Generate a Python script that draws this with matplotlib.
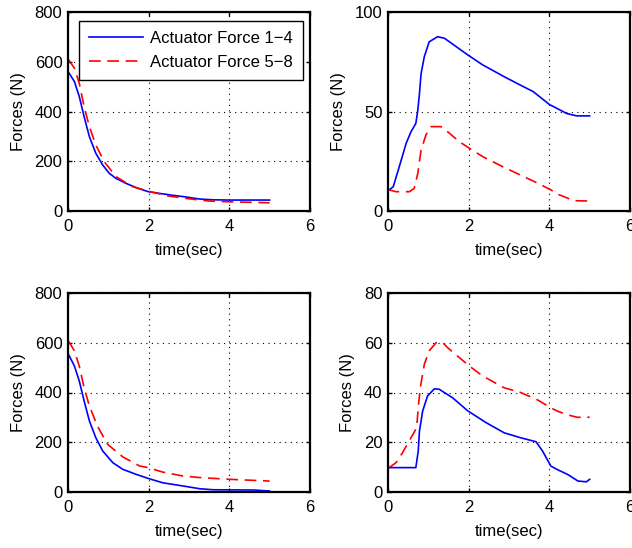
import matplotlib
matplotlib.use("Agg")
import matplotlib.pyplot as plt

plt.rcParams['font.family'] = ['Liberation Sans', 'DejaVu Sans']

# Top-left panel
tl_t_blue = [0, 0.02, 0.16, 0.28, 0.40, 0.53, 0.69, 0.86, 1.02, 1.19, 1.44, 1.69, 1.98, 2.26, 2.6, 2.9, 3.27, 3.6, 4.0, 4.5, 5.0]
tl_blue = [558, 556, 520, 460, 379, 299, 232, 185, 152, 131, 111, 94, 78, 71, 63, 57, 48, 45, 44, 44, 44]
tl_t_red = [0, 0.02, 0.16, 0.28, 0.40, 0.53, 0.69, 0.90, 1.19, 1.6, 1.98, 2.5, 3.0, 3.5, 4.0, 4.5, 5.0]
tl_red = [608, 607, 574, 513, 419, 339, 265, 198, 138, 98, 80, 60, 49, 40, 37, 35, 33]

# Top-right panel
tr_t_blue = [0, 0.03, 0.13, 0.28, 0.45, 0.57, 0.69, 0.74, 0.78, 0.82, 0.90, 1.02, 1.23, 1.40, 1.69, 1.98, 2.35, 2.88, 3.27, 3.6, 4.01, 4.1, 4.43, 4.68, 5.0]
tr_blue = [11, 10.6, 12.2, 22.3, 34, 39.8, 44, 50.8, 59, 69, 77.5, 85, 87.6, 86.8, 82.6, 78.4, 73.4, 67.5, 63.4, 60, 53.4, 52.5, 49, 47.8, 47.8]
tr_t_red = [0, 0.03, 0.2, 0.53, 0.65, 0.74, 0.82, 0.94, 1.07, 1.31, 1.48, 1.77, 2.02, 2.35, 2.84, 3.29, 3.71, 4.04, 4.2, 4.46, 4.6, 5.0]
tr_red = [11, 10.6, 9.7, 9.7, 11.4, 19, 30.6, 38.2, 42.4, 42.4, 39.8, 34.8, 31.5, 27.3, 22.3, 18, 14, 10.6, 8.5, 6.4, 5.2, 5]

# Bottom-left panel
bl_t_blue = [0, 0.02, 0.16, 0.28, 0.40, 0.53, 0.69, 0.86, 1.11, 1.36, 1.69, 1.98, 2.35, 2.86, 3.27, 3.6, 4.6, 5.0]
bl_blue = [553, 551, 506, 446, 366, 286, 218, 165, 118, 91, 71, 55, 37, 24, 13, 9, 8, 4]
bl_t_red = [0, 0.02, 0.16, 0.28, 0.40, 0.53, 0.73, 0.98, 1.36, 1.77, 1.98, 2.35, 2.86, 3.27, 4.0, 5.0]
bl_red = [606, 605, 567, 506, 419, 346, 265, 192, 141, 105, 98, 80, 64, 58, 51, 44]

# Bottom-right panel
br_t_blue = [0, 0.03, 0.69, 0.75, 0.78, 0.86, 0.98, 1.15, 1.27, 1.6, 1.98, 2.43, 2.88, 3.29, 3.67, 3.83, 4.04, 4.2, 4.46, 4.71, 4.92, 5.0]
br_blue = [10, 9.8, 9.8, 16.5, 24.5, 32.6, 38.6, 41.5, 41.3, 37.9, 32.6, 27.9, 23.8, 21.8, 20.2, 16.5, 10.4, 9, 7, 4.4, 4.1, 5.1]
br_t_red = [0, 0.03, 0.2, 0.36, 0.57, 0.71, 0.75, 0.80, 0.90, 1.02, 1.19, 1.36, 1.48, 1.77, 2.02, 2.35, 2.88, 3.29, 3.71, 4.04, 4.2, 4.46, 4.7, 4.9, 5.0]
br_red = [9.8, 9.8, 11.8, 15.8, 21.8, 25.8, 33.9, 41.9, 51.3, 56.7, 60, 60, 58, 54, 50.6, 46.6, 41.9, 40, 37, 33.8, 32.5, 31, 30, 30.2, 30]

x_ticks = [0, 2, 4, 6]
legend_labels = ["Actuator Force 1\u22124", "Actuator Force 5\u22128"]

W, H = 632, 548
fig = plt.figure(figsize=(W / 100, H / 100), dpi=100)

def px_axes(l, t, r, b):
    return fig.add_axes([l / W, 1 - b / H, (r - l) / W, (b - t) / H])

panels = [
    (px_axes(68, 12, 310, 211), tl_t_blue, tl_blue, tl_t_red, tl_red, 800, [0, 200, 400, 600, 800]),
    (px_axes(388, 12, 630, 211), tr_t_blue, tr_blue, tr_t_red, tr_red, 100, [0, 50, 100]),
    (px_axes(68, 293, 310, 492), bl_t_blue, bl_blue, bl_t_red, bl_red, 800, [0, 200, 400, 600, 800]),
    (px_axes(388, 293, 630, 492), br_t_blue, br_blue, br_t_red, br_red, 80, [0, 20, 40, 60, 80]),
]

FS = 12
for i, (ax, tb, yb, tr, yr, ymax, yt) in enumerate(panels):
    ax.plot(tb, yb, color='#0000ff', lw=1.2, label=legend_labels[0])
    ax.plot(tr, yr, color='#ff0000', lw=1.2, ls=(0, (7, 4)), label=legend_labels[1])
    ax.set_xlim(0, 6)
    ax.set_ylim(0, ymax)
    ax.set_xticks(x_ticks)
    ax.set_yticks(yt)
    ax.grid(True, color='black', ls=(0, (1, 4)), lw=0.8)
    ax.tick_params(direction='in', length=3, width=1, top=True, right=True,
                   labelsize=FS, colors='black')
    ax.tick_params(axis='x', pad=6)
    ax.tick_params(axis='y', pad=4)
    for s in ax.spines.values():
        s.set_linewidth(1.6)
    ax.set_xlabel('time(sec)', fontsize=FS, labelpad=6)
    ax.set_ylabel('Forces (N)', fontsize=FS, labelpad=6)
    if i == 0:
        leg = ax.legend(loc='upper right', bbox_to_anchor=((303 - 68) / 242, 1 - 9 / 199),
                        fontsize=FS, fancybox=False, framealpha=1, edgecolor='black',
                        handlelength=3.2, handletextpad=0.45, borderaxespad=0,
                        borderpad=0.6, labelspacing=0.55)
        leg.get_frame().set_linewidth(1.0)

fig.savefig('out.png', dpi=100)
